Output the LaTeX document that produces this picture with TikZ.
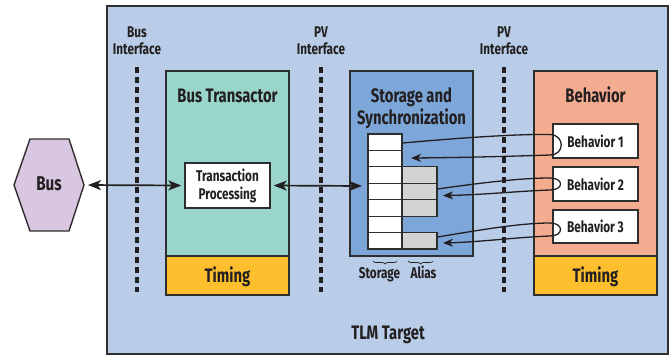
\documentclass[tikz,border=0pt]{standalone}
\usepackage{fontspec}
\setmainfont{Fira Sans}[FakeStretch=0.76]
\usetikzlibrary{arrows.meta,decorations.pathreplacing}

\definecolor{ink}{HTML}{231F20}
\definecolor{edge}{HTML}{2E2E2E}
\definecolor{tlmbg}{HTML}{B9CDE8}
\definecolor{busfill}{HTML}{D9C6E1}
\definecolor{xactfill}{HTML}{99D5CA}
\definecolor{timefill}{HTML}{FDBF2E}
\definecolor{storefill}{HTML}{7DA7D9}
\definecolor{behavfill}{HTML}{F4AC91}
\definecolor{aliasfill}{HTML}{D3D3D3}

\tikzset{
  panel/.style={draw=edge, line width=1.5pt, inner sep=0pt},
  whitebox/.style={draw=edge, line width=1.4pt, fill=white, inner sep=0pt,
                   font=\fontsize{15.5}{18}\selectfont\bfseries, text=ink, align=center},
  cell/.style={draw=edge, line width=1.1pt, minimum width=34pt, minimum height=16.4pt, inner sep=0pt},
  title/.style={font=\fontsize{19.5}{22}\selectfont\bfseries, text=ink, anchor=base, inner sep=0pt},
  small/.style={font=\fontsize{15.5}{17}\selectfont\bfseries, text=ink, anchor=base, inner sep=0pt},
  iface/.style={draw=ink, line width=3.2pt, dash pattern=on 6pt off 4pt},
  link/.style={draw=ink, line width=1.7pt, {Stealth[length=13pt,width=10pt,inset=3.5pt]}-{Stealth[length=13pt,width=10pt,inset=3.5pt]}},
  loop/.style={draw=ink, line width=1.3pt, -{Stealth[length=10pt,width=8pt,inset=3pt]}},
  underbrace/.style={draw=ink, line width=0.7pt, decorate, decoration={brace, amplitude=3pt, mirror}}
}

\begin{document}
\begin{tikzpicture}[x=1pt, y=-1pt]
\useasboundingbox (0,0) rectangle (671,356);

% TLM target frame
\node[panel, fill=tlmbg, minimum width=561pt, minimum height=348pt] (target) at (387.5,180) {};
\node[title] (targetlbl) at (388,339) {TLM Target};

% interface markers
\foreach \x/\top/\nm in {137/Bus/busif, 321/PV/pvif, 504/PV/pvif2} {
  \node[small] (\nm a) at (\x,37) {\top};
  \node[small] (\nm b) at (\x,54) {Interface};
  \draw[iface] (\x,67) -- (\x,292);
}

% bus (hexagon)
\draw[draw=edge, line width=1.4pt, fill=busfill]
  (14,185) -- (30,139) -- (69,139) -- (84,185) -- (69,231) -- (30,231) -- cycle;
\node[font=\fontsize{20}{22}\selectfont\bfseries, text=ink] (bus) at (49,184) {Bus};
\coordinate (busR) at (84,185);

% bus transactor
\node[panel, fill=xactfill, minimum width=123pt, minimum height=185pt] (xact) at (227.5,163.5) {};
\node[panel, fill=timefill, minimum width=123pt, minimum height=39pt] (xtime) at (227.5,275.5) {};
\node[title] (xactlbl) at (227.5,102) {Bus Transactor};
\node[title] (xtimelbl) at (227.5,282) {Timing};
\node[whitebox, minimum width=85pt, minimum height=45pt] (proc) at (227.5,185.5) {Transaction\\Processing};

% storage and synchronization
\node[panel, fill=storefill, minimum width=123pt, minimum height=185pt] (store) at (411.5,163.5) {};
\node[title] (storelbl1) at (411.5,102) {Storage and};
\node[title] (storelbl2) at (411.5,124) {Synchronization};
\foreach \i in {1,...,7} {
  \node[cell, fill=white] (s\i) at (385,{134+(\i-0.5)*16.43}) {};
}
\foreach \i in {3,4,5,7} {
  \node[cell, fill=aliasfill, minimum width=35pt] (a\i) at (419.5,{134+(\i-0.5)*16.43}) {};
}
\coordinate (storeIn) at (362,186);
\draw[underbrace] (373,261) -- (397,261);
\draw[underbrace] (408,261) -- (433,261);
\node[small] (storagelbl) at (379.5,278) {Storage};
\node[small] (aliaslbl) at (423.5,278) {Alias};

% behavior
\node[panel, fill=behavfill, minimum width=123pt, minimum height=185pt] (behav) at (595.5,163.5) {};
\node[panel, fill=timefill, minimum width=123pt, minimum height=39pt] (btime) at (595.5,275.5) {};
\node[title] (behavlbl) at (595.5,102) {Behavior};
\node[title] (btimelbl) at (595.5,282) {Timing};
\node[whitebox, minimum width=85pt, minimum height=34pt] (b1) at (595.5,141) {Behavior 1};
\node[whitebox, minimum width=85pt, minimum height=34pt] (b2) at (595.5,184) {Behavior 2};
\node[whitebox, minimum width=85pt, minimum height=33pt] (b3) at (595.5,226.5) {Behavior 3};

% transaction path
\draw[link, shorten <=4pt, shorten >=3pt] (busR) -- (proc.west);
\draw[link, shorten <=3pt] (proc.east) -- (storeIn);

% behavior read/write loops
\draw[loop] (s1.east |- 0,143) .. controls (470,137) and (520,134) .. (550,134.5)
  .. controls (565,135) and (565,155) .. (550,155)
  .. controls (520,156) and (470,157.5) .. (411,158);
\draw[loop] (a4.east |- 0,189) .. controls (480,183) and (520,178) .. (550,178)
  .. controls (564,178) and (564,190) .. (550,190)
  .. controls (520,191) and (480,195) .. (443,195.5);
\draw[loop] (a7.east |- 0,237) .. controls (480,230) and (520,223) .. (550,223)
  .. controls (564,223) and (564,236) .. (550,236)
  .. controls (520,237) and (480,242) .. (443,243);
\end{tikzpicture}
\end{document}
